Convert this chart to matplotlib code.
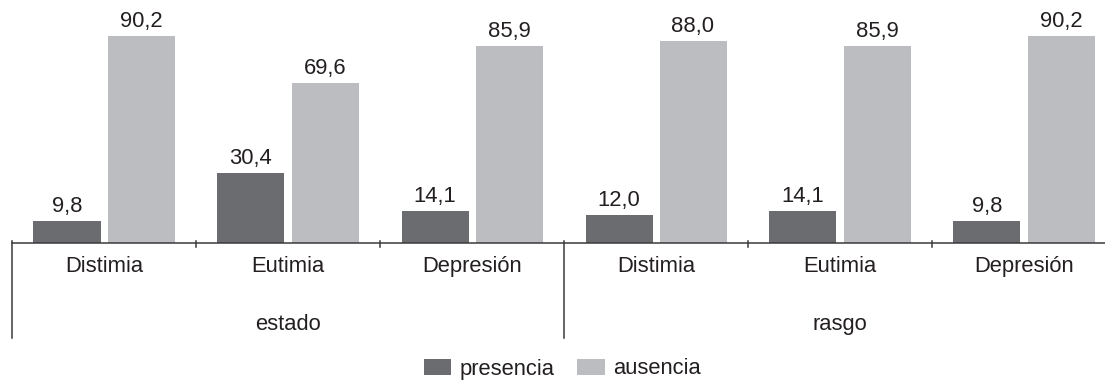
import numpy as np
import matplotlib
matplotlib.use("Agg")
import matplotlib.pyplot as plt
from matplotlib.patches import Patch

plt.rcParams["font.family"] = ["Liberation Sans", "DejaVu Sans"]

# data
groups = ["estado", "rasgo"]
categories = ["Distimia", "Eutimia", "Depresión"]
presencia = [9.8, 30.4, 14.1, 12.0, 14.1, 9.8]
ausencia = [90.2, 69.6, 85.9, 88.0, 85.9, 90.2]
series_names = ["presencia", "ausencia"]
colors = ["#6b6c70", "#bcbdc1"]

W, H = 1105, 381
PX = 2.295  # pixels per unit on y
FS = 15.8
TXT = "#231f20"
LINE = "#3a3a3a"

fig = plt.figure(figsize=(W / 100, H / 100), dpi=100)

# axes: x from 12 px to 1116 px (clipped on the right), bottom at 243 px
ax_left, ax_right = 12, 1116
ax_bottom, ax_top = 243, 0
ax = fig.add_axes([ax_left / W, (H - ax_bottom) / H,
                   (ax_right - ax_left) / W, (ax_bottom - ax_top) / H])
ax.set_xlim(0, 6)
ax.set_ylim(0, 243 / PX)
ax.axis("off")

x = np.arange(6) + 0.5
bw = 67 / 184
gap = 7 / 184
off = (bw + gap) / 2

for vals, col, sign in [(presencia, colors[0], -1), (ausencia, colors[1], 1)]:
    bars = ax.bar(x + sign * off, vals, width=bw, color=col, clip_on=False)
    for b, v in zip(bars, vals):
        ax.text(b.get_x() + b.get_width() / 2, v + 9 / PX, f"{v:.1f}".replace(".", ","),
                ha="center", va="baseline", fontsize=FS, color=TXT)

# axis line and ticks
ax.plot([0, 6], [0, 0], color=LINE, lw=1.1, clip_on=False)
for i in range(1, 6):
    if i == 3:
        continue
    ax.plot([i, i], [2.5 / PX, -3.5 / PX], color=LINE, lw=1.1, clip_on=False)

# separators for the groups
for i in [0, 3]:
    ax.plot([i, i], [2.5 / PX, -95 / PX], color=LINE, lw=1.1, clip_on=False)

# category labels
for i in range(6):
    ax.text(x[i], -29 / PX, categories[i % 3], ha="center", va="baseline",
            fontsize=FS, color=TXT)
# group labels
for g, name in enumerate(groups):
    ax.text(g * 3 + 1.5, -87 / PX, name, ha="center", va="baseline",
            fontsize=FS, color=TXT)

handles = [Patch(facecolor=c, edgecolor="none") for c in colors]
fig.legend(handles, series_names, loc="center", bbox_to_anchor=(562 / W, 1 - 369 / H),
           ncol=2, frameon=False, fontsize=FS, handlelength=1.25, handleheight=0.75,
           columnspacing=1.05, handletextpad=0.37, labelcolor=TXT,
           borderpad=0, borderaxespad=0)

fig.savefig("out.png", dpi=100)
